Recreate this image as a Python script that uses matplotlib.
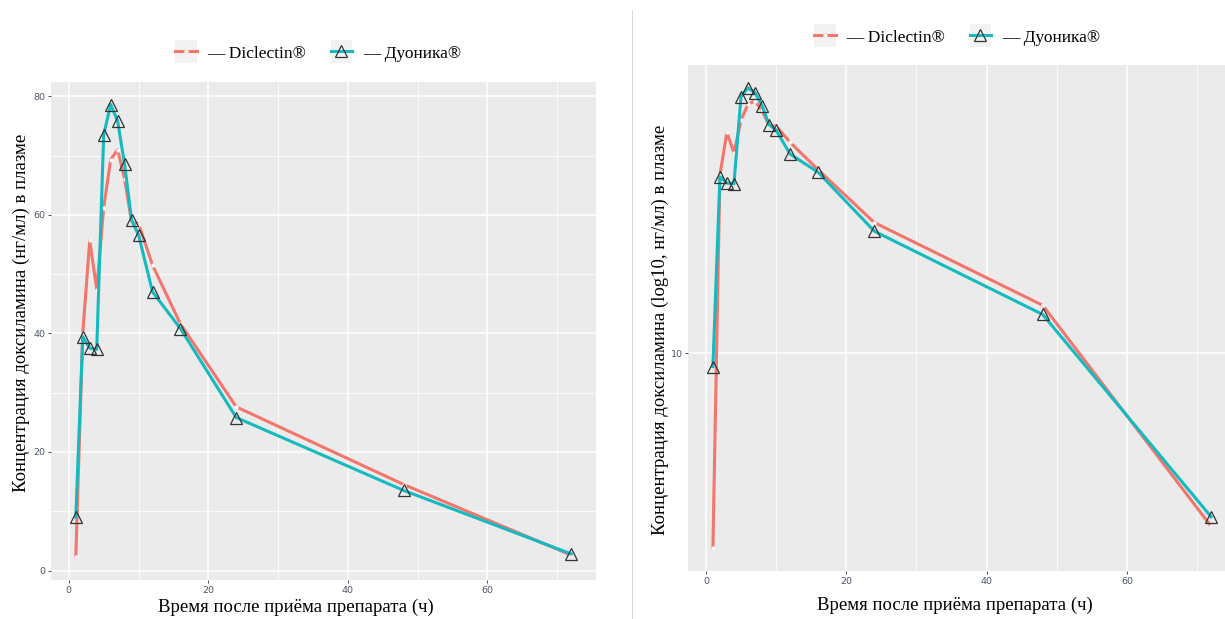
import numpy as np
import matplotlib.pyplot as plt
from matplotlib.legend_handler import HandlerLine2D
from matplotlib.patches import Rectangle
from matplotlib.lines import Line2D

# data
hours = [1, 2, 3, 4, 5, 6, 7, 8, 9, 10, 12, 16, 24, 48, 72]
diclectin = [2.2, 40.0, 55.7, 47.4, 61.2, 69.3, 71.0, 66.0, 58.8, 58.5, 51.5, 41.6, 27.6, 14.5, 2.6]
duonika = [9.0, 39.4, 37.5, 37.3, 73.5, 78.6, 75.8, 68.5, 59.1, 56.6, 47.0, 40.8, 25.8, 13.5, 2.8]
labels = ['— Diclectin®', '— Дуоника®']
xticks = [0, 20, 40, 60]
xminor = [10, 30, 50, 70]
yticks_lin = [0, 20, 40, 60, 80]
yminor_lin = [10, 30, 50, 70]
yticks_log = [10]

RED = '#F3766D'
TEAL = '#14BAC0'
SERIF = 'Liberation Serif'

W, H = 1225, 619
fig = plt.figure(figsize=(W / 100, H / 100), dpi=100)
fig.patch.set_facecolor('white')


def px_axes(x0, y0, x1, y1):
    return fig.add_axes([x0 / W, (H - y1) / H, (x1 - x0) / W, (y1 - y0) / H])


class KeyHandler(HandlerLine2D):
    def create_artists(self, legend, orig_handle, xdescent, ydescent, width, height, fontsize, trans):
        arts = super().create_artists(legend, orig_handle, xdescent, ydescent, width, height, fontsize, trans)
        bg = Rectangle((-xdescent, -ydescent - 3), width, height + 6, facecolor='#F2F2F2',
                       edgecolor='none', transform=trans)
        return [bg] + list(arts)


def style(ax):
    ax.set_facecolor('#EBEBEB')
    for s in ax.spines.values():
        s.set_visible(False)
    ax.set_axisbelow(True)
    ax.grid(True, which='major', color='white', linewidth=1.1)
    ax.grid(True, which='minor', color='white', linewidth=0.55)
    ax.tick_params(which='major', length=2.5, width=0.6, color='#333333',
                   labelsize=6.8, labelcolor='#4D5566', pad=1.5)
    ax.tick_params(which='minor', length=0)
    ax.set_xticks(xticks)
    ax.set_xticks(xminor, minor=True)
    ax.set_xlim(-2.55, 75.55)


def draw(ax):
    l1, = ax.plot(hours, diclectin, color=RED, lw=2.2, marker='o', ms=2.8,
                  mfc='#FAFAFA', mec='#F0E0E0', mew=0.4, zorder=3)
    l2, = ax.plot(hours, duonika, color=TEAL, lw=2.2, marker='^', ms=8.5,
                  mfc='none', mec='#333333', mew=0.9, zorder=4)
    return l1, l2


# left panel (linear)
ax1 = px_axes(51, 82, 596, 580)
style(ax1)
h1 = draw(ax1)
ax1.set_yticks(yticks_lin)
ax1.set_yticks(yminor_lin, minor=True)
ax1.set_ylim(-1.6, 82.4)

# right panel (log10)
ax2 = px_axes(688, 65, 1236, 571)
style(ax2)
h2 = draw(ax2)
ax2.set_yscale('log')
ax2.set_ylim(10 ** 0.264, 10 ** 1.973)
ax2.set_yticks(yticks_log)
ax2.set_yticklabels([str(v) for v in yticks_log])
ax2.yaxis.set_minor_locator(plt.NullLocator())
ax2.grid(False, axis='y', which='minor')

for ax, hh, cx, cy in [(ax1, h1, 318, 53), (ax2, h2, 957, 37)]:
    ax.legend(hh, labels, loc='center', bbox_to_anchor=(cx / W, 1 - cy / H),
              bbox_transform=fig.transFigure, ncol=2, frameon=False,
              prop={'family': SERIF, 'size': 12.5}, handlelength=1.25,
              handleheight=0.9, handletextpad=0.6, columnspacing=1.4,
              handler_map={Line2D: KeyHandler(numpoints=1)})

# axis titles
fig.text(296 / W, 1 - 607 / H, 'Время после приёма препарата (ч)', family=SERIF,
         fontsize=13.5, ha='center', va='center')
fig.text(955 / W, 1 - 605 / H, 'Время после приёма препарата (ч)', family=SERIF,
         fontsize=13.5, ha='center', va='center')
fig.text(21 / W, 1 - 313 / H, 'Концентрация доксиламина (нг/мл) в плазме', family=SERIF,
         fontsize=13.5, ha='center', va='center', rotation=90)
fig.text(660 / W, 1 - 330 / H, 'Концентрация доксиламина (log10, нг/мл) в плазме',
         family=SERIF, fontsize=13.5, ha='center', va='center', rotation=90)

# separator between the two pictures
fig.add_artist(Line2D([632 / W, 632 / W], [0, 1 - 10 / H], transform=fig.transFigure,
                      color='#D9D9D9', lw=0.8))

fig.savefig('out.png', dpi=100)
